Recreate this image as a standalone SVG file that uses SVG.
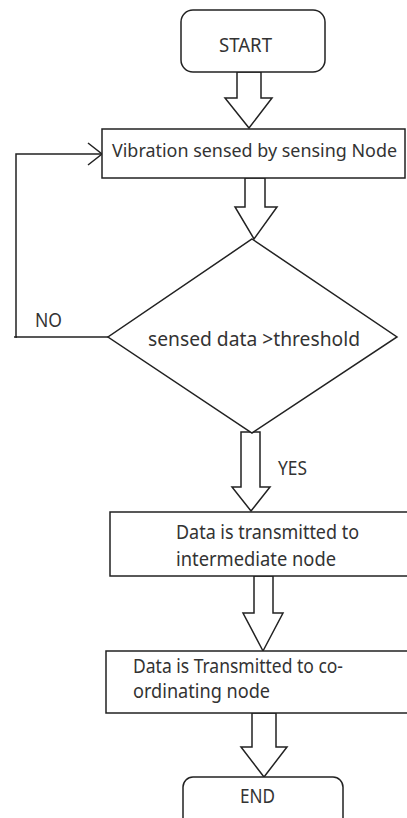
<svg xmlns="http://www.w3.org/2000/svg" width="407" height="818" viewBox="0 0 407 818">
<style>
.box{fill:#fff;stroke:#222;stroke-width:1.5}
.blk{fill:#fff;stroke:#222;stroke-width:1.5;stroke-linejoin:miter}
.ln{fill:none;stroke:#222;stroke-width:1.5}
.t{font-family:"Noto Sans","Open Sans",sans-serif;font-size:19.5px;fill:#333}
.s{font-size:18px}
</style>
<rect width="407" height="818" fill="#fff"/>
<g id="connectors">
<polygon class="blk" points="237,72 237,98 225,98 249,128 272,98 261,98 261,72"/>
<polygon class="blk" points="245,178 245,207 235,207 254,239 277,207 265,207 265,178"/>
<polygon class="blk" points="241,432 241,487 232,487 251,511 270,487 260,487 260,432"/>
<polygon class="blk" points="254,576 254,613 243,613 263,651 283,613 273,613 273,576"/>
<polygon class="blk" points="252,713 252,747 241,747 264,777 287,747 276,747 276,713"/>
<polyline class="ln" points="108,337 16,337 16,154 102,154"/>
<line class="ln" x1="14" y1="337" x2="17" y2="337"/>
<polyline class="ln" points="88,143 102,154 88,165"/>
<text class="t" x="35" y="327" textLength="27" lengthAdjust="spacingAndGlyphs">NO</text>
<text class="t" x="278" y="475" textLength="29" lengthAdjust="spacingAndGlyphs">YES</text>
</g>
<g id="start">
<rect class="box" x="181" y="10" width="144" height="62" rx="12"/>
<text class="t" x="219" y="52" textLength="53" lengthAdjust="spacingAndGlyphs">START</text>
</g>
<g id="sense">
<rect class="box" x="102" y="129" width="303" height="49"/>
<text class="t s" x="112" y="157" textLength="285" lengthAdjust="spacingAndGlyphs">Vibration sensed by sensing Node</text>
</g>
<g id="decision">
<polygon class="box" points="252,239 397,337 252,433 108,337"/>
<text class="t" x="148" y="346" textLength="212" lengthAdjust="spacingAndGlyphs">sensed data &gt;threshold</text>
</g>
<g id="intermediate">
<rect class="box" x="110" y="512" width="310" height="64"/>
<text class="t" x="176" y="539" textLength="183" lengthAdjust="spacingAndGlyphs">Data is transmitted to</text>
<text class="t" x="176" y="566" textLength="160" lengthAdjust="spacingAndGlyphs">intermediate node</text>
</g>
<g id="coordinating">
<rect class="box" x="106" y="651" width="314" height="62"/>
<text class="t" x="133" y="673" textLength="210" lengthAdjust="spacingAndGlyphs">Data is Transmitted to co-</text>
<text class="t" x="133" y="698" textLength="137" lengthAdjust="spacingAndGlyphs">ordinating node</text>
</g>
<g id="end">
<rect class="box" x="183" y="777" width="160" height="60" rx="10"/>
<text class="t" x="240" y="803" textLength="35" lengthAdjust="spacingAndGlyphs">END</text>
</g>
</svg>
